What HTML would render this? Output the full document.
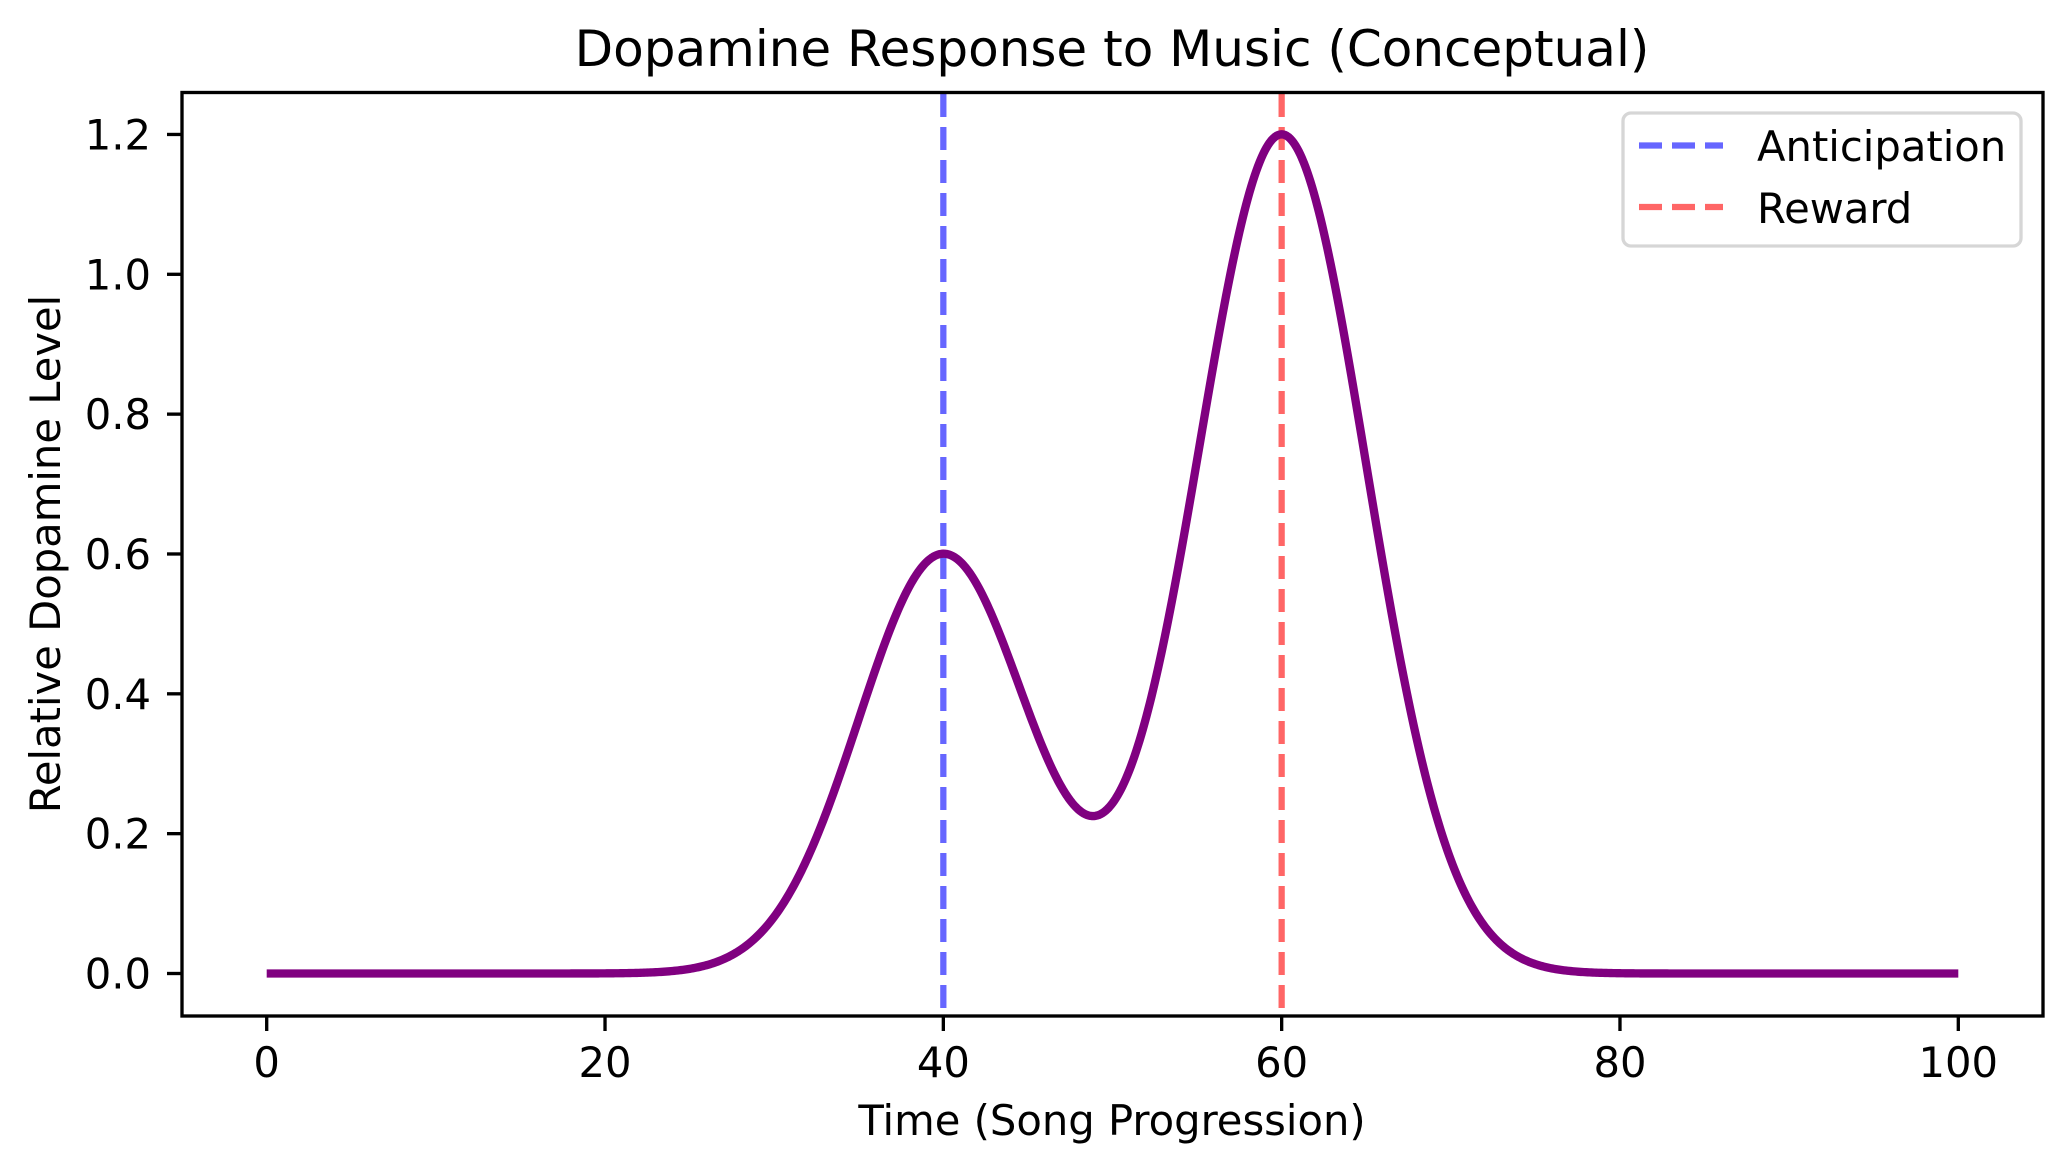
<!DOCTYPE html>
<html><head><meta charset="utf-8"><style>
html,body{margin:0;padding:0;background:#fff;}
svg{display:block;}
text{font-family:"DejaVu Sans","Liberation Sans",sans-serif;fill:#000;}
</style></head><body>
<svg id="s" width="2072" height="1172" viewBox="0 0 2072 1172" xmlns="http://www.w3.org/2000/svg">
<rect width="2072" height="1172" fill="#fff"/>
<text x="1112" y="66" font-size="50" text-anchor="middle">Dopamine Response to Music (Conceptual)</text>
<g id="plot"></g>
<rect x="182" y="92.5" width="1861" height="923.5" fill="none" stroke="#000" stroke-width="3.33"/>
<g id="ticks" stroke="#000" stroke-width="3.33"></g>
<g id="labels" font-size="41.7"></g>
<text x="1112" y="1135" font-size="41.7" text-anchor="middle">Time (Song Progression)</text>
<text transform="translate(60,554) rotate(-90)" font-size="41.7" text-anchor="middle">Relative Dopamine Level</text>
<rect x="1623" y="113" width="398" height="133" rx="8" fill="#fff" fill-opacity="0.8" stroke="#d6d6d6" stroke-width="3.33"/>
<line x1="1639" y1="145.5" x2="1723" y2="145.5" stroke="#6666ff" stroke-width="6.25" stroke-dasharray="23,10"/>
<line x1="1639" y1="207" x2="1723" y2="207" stroke="#ff6666" stroke-width="6.25" stroke-dasharray="23,10"/>
<text x="1757" y="161" font-size="41.7">Anticipation</text>
<text x="1757" y="223" font-size="41.7">Reward</text>
</svg>
<script>
var X=function(v){return 266.7+v*16.916;};
var Y=function(v){return 973.5-v*699.2;};
var ns="http://www.w3.org/2000/svg";
function el(p,t,a){var e=document.createElementNS(ns,t);for(var k in a)e.setAttribute(k,a[k]);p.appendChild(e);return e;}
var plot=document.getElementById('plot');
el(plot,'line',{x1:X(40),y1:94,x2:X(40),y2:1015,stroke:'#6666ff','stroke-width':6.25,'stroke-dasharray':'23,10'});
el(plot,'line',{x1:X(60),y1:94,x2:X(60),y2:1015,stroke:'#ff6666','stroke-width':6.25,'stroke-dasharray':'23,10'});
var pts=[];
for(var i=0;i<=1000;i++){var x=i/10;var y=0.6*Math.exp(-Math.pow(x-40,2)/50)+1.2*Math.exp(-Math.pow(x-60,2)/50);pts.push(X(x).toFixed(2)+','+Y(y).toFixed(2));}
el(plot,'polyline',{points:pts.join(' '),fill:'none',stroke:'#800080','stroke-width':8.33,'stroke-linejoin':'round'});
var tk=document.getElementById('ticks'),lb=document.getElementById('labels');
[0,20,40,60,80,100].forEach(function(v){el(tk,'line',{x1:X(v),y1:1016,x2:X(v),y2:1031});var t=el(lb,'text',{x:X(v),y:1077,'text-anchor':'middle'});t.textContent=v;});
[0,0.2,0.4,0.6,0.8,1.0,1.2].forEach(function(v){el(tk,'line',{x1:167,y1:Y(v),x2:182,y2:Y(v)});var t=el(lb,'text',{x:151,y:Y(v)+15,'text-anchor':'end'});t.textContent=v.toFixed(1);});
</script>
</body></html>
